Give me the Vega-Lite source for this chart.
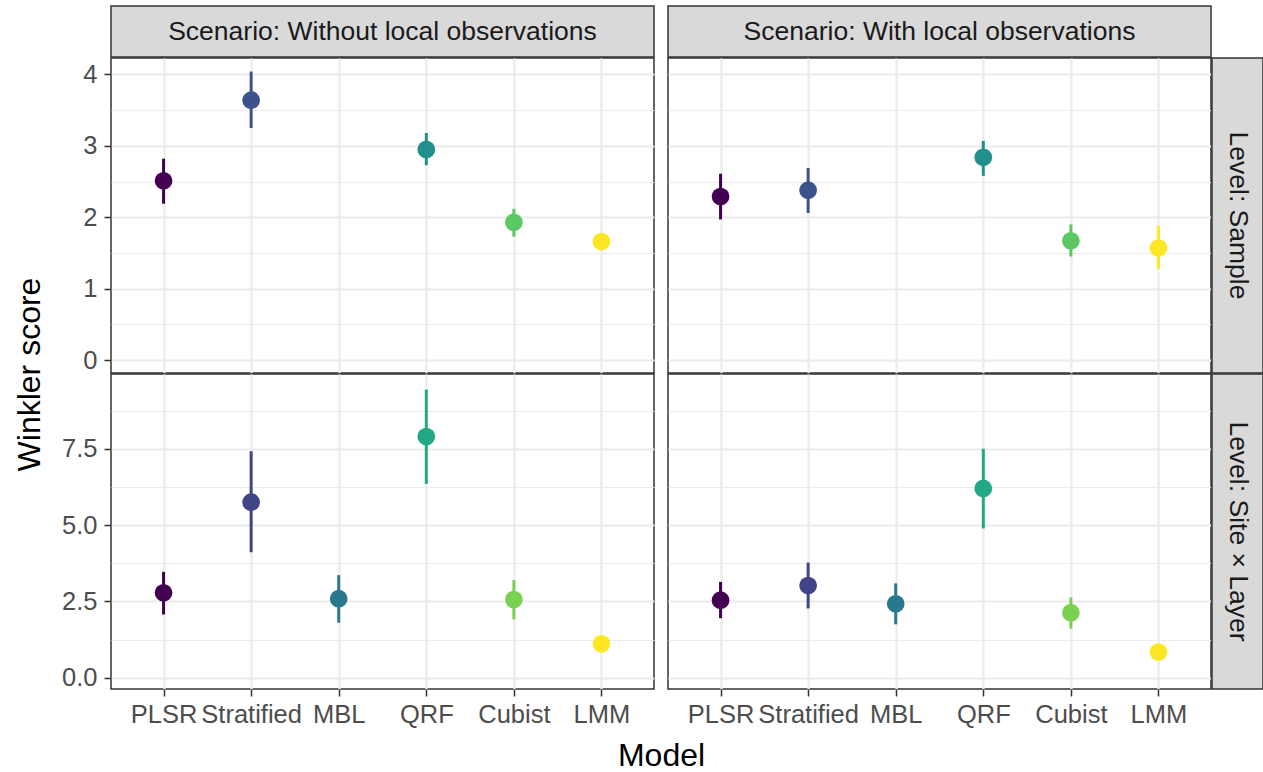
{
  "$schema": "https://vega.github.io/schema/vega-lite/v6.json",
  "padding": {"left": 12, "top": 5, "right": 0, "bottom": 0},
  "background": "white",
  "datasets": {
    "scores": [
      {"scenario": "Without local observations", "level": "Sample", "model": "PLSR", "mean": 2.51, "lo": 2.19, "hi": 2.82},
      {"scenario": "Without local observations", "level": "Sample", "model": "Stratified", "mean": 3.64, "lo": 3.25, "hi": 4.04},
      {"scenario": "Without local observations", "level": "Sample", "model": "QRF", "mean": 2.95, "lo": 2.73, "hi": 3.18},
      {"scenario": "Without local observations", "level": "Sample", "model": "Cubist", "mean": 1.93, "lo": 1.73, "hi": 2.12},
      {"scenario": "Without local observations", "level": "Sample", "model": "LMM", "mean": 1.66, "lo": 1.58, "hi": 1.74},
      {"scenario": "With local observations", "level": "Sample", "model": "PLSR", "mean": 2.29, "lo": 1.97, "hi": 2.61},
      {"scenario": "With local observations", "level": "Sample", "model": "Stratified", "mean": 2.38, "lo": 2.06, "hi": 2.69},
      {"scenario": "With local observations", "level": "Sample", "model": "QRF", "mean": 2.84, "lo": 2.58, "hi": 3.07},
      {"scenario": "With local observations", "level": "Sample", "model": "Cubist", "mean": 1.67, "lo": 1.45, "hi": 1.9},
      {"scenario": "With local observations", "level": "Sample", "model": "LMM", "mean": 1.57, "lo": 1.28, "hi": 1.88},
      {"scenario": "Without local observations", "level": "Site × Layer", "model": "PLSR", "mean": 2.78, "lo": 2.07, "hi": 3.47},
      {"scenario": "Without local observations", "level": "Site × Layer", "model": "Stratified", "mean": 5.75, "lo": 4.11, "hi": 7.42},
      {"scenario": "Without local observations", "level": "Site × Layer", "model": "MBL", "mean": 2.59, "lo": 1.8, "hi": 3.36},
      {"scenario": "Without local observations", "level": "Site × Layer", "model": "QRF", "mean": 7.9, "lo": 6.35, "hi": 9.44},
      {"scenario": "Without local observations", "level": "Site × Layer", "model": "Cubist", "mean": 2.56, "lo": 1.91, "hi": 3.2},
      {"scenario": "Without local observations", "level": "Site × Layer", "model": "LMM", "mean": 1.11, "lo": 1.02, "hi": 1.2},
      {"scenario": "With local observations", "level": "Site × Layer", "model": "PLSR", "mean": 2.54, "lo": 1.95, "hi": 3.14},
      {"scenario": "With local observations", "level": "Site × Layer", "model": "Stratified", "mean": 3.02, "lo": 2.27, "hi": 3.77},
      {"scenario": "With local observations", "level": "Site × Layer", "model": "MBL", "mean": 2.42, "lo": 1.75, "hi": 3.09},
      {"scenario": "With local observations", "level": "Site × Layer", "model": "QRF", "mean": 6.2, "lo": 4.89, "hi": 7.5},
      {"scenario": "With local observations", "level": "Site × Layer", "model": "Cubist", "mean": 2.13, "lo": 1.61, "hi": 2.63},
      {"scenario": "With local observations", "level": "Site × Layer", "model": "LMM", "mean": 0.84, "lo": 0.76, "hi": 0.92}
    ]
  },
  "columns": 4,
  "bounds": "flush",
  "spacing": {"row": 1, "column": 1},
  "resolve": {"scale": {"color": "independent", "x": "independent", "y": "independent"}},
  "concat": [
    {
      "width": 543, "height": 51,
      "view": {"fill": "#d9d9d9", "stroke": "#333333", "strokeWidth": 1.5},
      "data": {"values": [{"label": "Scenario: Without local observations"}]},
      "mark": {"type": "text", "fontSize": 26.5, "color": "#1a1a1a", "baseline": "middle", "align": "center"},
      "encoding": {"text": {"field": "label"}}
    },
    {
      "width": 12, "height": 51,
      "view": {"stroke": null},
      "data": {"values": []},
      "mark": "point"
    },
    {
      "width": 543, "height": 51,
      "view": {"fill": "#d9d9d9", "stroke": "#333333", "strokeWidth": 1.5},
      "data": {"values": [{"label": "Scenario: With local observations"}]},
      "mark": {"type": "text", "fontSize": 26.5, "color": "#1a1a1a", "baseline": "middle", "align": "center"},
      "encoding": {"text": {"field": "label"}}
    },
    {
      "width": 51, "height": 51,
      "view": {"stroke": null},
      "data": {"values": []},
      "mark": "point"
    },
    {
      "width": 543, "height": 315,
      "data": {"name": "scores"},
      "transform": [{"filter": "datum.level === 'Sample' && datum.scenario === 'Without local observations'"}],
      "encoding": {
        "x": {"field": "model", "type": "nominal", "scale": {"type": "point", "domain": ["PLSR", "Stratified", "MBL", "QRF", "Cubist", "LMM"], "padding": 0.6},
              "axis": {"labels": false, "ticks": false, "title": null, "grid": true}},
        "color": {"field": "model", "type": "nominal", "legend": null,
                  "scale": {"domain": ["PLSR", "Stratified", "QRF", "Cubist", "LMM"], "range": ["#440154", "#3B528B", "#21908C", "#5DC863", "#FDE725"]}}
      },
      "layer": [
        {
          "mark": {"type": "rule", "strokeWidth": 3},
          "encoding": {
            "y": {"field": "lo", "type": "quantitative", "scale": {"domain": [-0.18, 4.23], "nice": false, "zero": false},
                  "axis": {"orient": "left", "values": [0.5, 1.5, 2.5, 3.5], "labels": false, "ticks": false, "grid": true, "gridWidth": 1.1, "title": null}},
            "y2": {"field": "hi"}
          }
        },
        {
          "mark": {"type": "circle", "size": 314, "opacity": 1},
          "encoding": {
            "y": {"field": "mean", "type": "quantitative", "scale": {"domain": [-0.18, 4.23], "nice": false, "zero": false},
                  "axis": {"orient": "left", "values": [0, 1, 2, 3, 4], "grid": true, "format": "d", "labelPadding": 7,
                           "title": "Winkler score", "titleX": -72, "titleY": 316, "titleAngle": 270, "titleBaseline": "alphabetic", "titleAlign": "center"}}
          }
        }
      ],
      "resolve": {"axis": {"y": "independent"}}
    },
    {
      "width": 12, "height": 315,
      "view": {"stroke": null},
      "data": {"values": []},
      "mark": "point"
    },
    {
      "width": 543, "height": 315,
      "data": {"name": "scores"},
      "transform": [{"filter": "datum.level === 'Sample' && datum.scenario === 'With local observations'"}],
      "encoding": {
        "x": {"field": "model", "type": "nominal", "scale": {"type": "point", "domain": ["PLSR", "Stratified", "MBL", "QRF", "Cubist", "LMM"], "padding": 0.6},
              "axis": {"labels": false, "ticks": false, "title": null, "grid": true}},
        "color": {"field": "model", "type": "nominal", "legend": null,
                  "scale": {"domain": ["PLSR", "Stratified", "QRF", "Cubist", "LMM"], "range": ["#440154", "#3B528B", "#21908C", "#5DC863", "#FDE725"]}}
      },
      "layer": [
        {
          "mark": {"type": "rule", "strokeWidth": 3},
          "encoding": {
            "y": {"field": "lo", "type": "quantitative", "scale": {"domain": [-0.18, 4.23], "nice": false, "zero": false},
                  "axis": {"orient": "left", "values": [0.5, 1.5, 2.5, 3.5], "labels": false, "ticks": false, "grid": true, "gridWidth": 1.1, "title": null}},
            "y2": {"field": "hi"}
          }
        },
        {
          "mark": {"type": "circle", "size": 314, "opacity": 1},
          "encoding": {
            "y": {"field": "mean", "type": "quantitative", "scale": {"domain": [-0.18, 4.23], "nice": false, "zero": false},
                  "axis": {"orient": "left", "values": [0, 1, 2, 3, 4], "grid": true, "labels": false, "ticks": false, "title": null}}
          }
        }
      ],
      "resolve": {"axis": {"y": "independent"}}
    },
    {
      "width": 51, "height": 315,
      "view": {"fill": "#d9d9d9", "stroke": "#333333", "strokeWidth": 1.5},
      "data": {"values": [{"label": "Level: Sample"}]},
      "mark": {"type": "text", "fontSize": 26.5, "color": "#1a1a1a", "baseline": "middle", "align": "center", "angle": 90},
      "encoding": {"text": {"field": "label"}}
    },
    {
      "width": 543, "height": 315,
      "data": {"name": "scores"},
      "transform": [{"filter": "datum.level === 'Site × Layer' && datum.scenario === 'Without local observations'"}],
      "encoding": {
        "x": {"field": "model", "type": "nominal", "scale": {"type": "point", "domain": ["PLSR", "Stratified", "MBL", "QRF", "Cubist", "LMM"], "padding": 0.6},
              "axis": {"labelAngle": 0, "grid": true, "labelPadding": 6, "title": "Model", "titleX": 550, "titleY": 76, "titleBaseline": "alphabetic", "titleAlign": "center"}},
        "color": {"field": "model", "type": "nominal", "legend": null,
                  "scale": {"domain": ["PLSR", "Stratified", "MBL", "QRF", "Cubist", "LMM"], "range": ["#440154", "#414487", "#2A788E", "#22A884", "#7AD151", "#FDE725"]}}
      },
      "layer": [
        {
          "mark": {"type": "rule", "strokeWidth": 3},
          "encoding": {
            "y": {"field": "lo", "type": "quantitative", "scale": {"domain": [-0.37, 9.95], "nice": false, "zero": false},
                  "axis": {"orient": "left", "values": [1.25, 3.75, 6.25, 8.75], "labels": false, "ticks": false, "grid": true, "gridWidth": 1.1, "title": null}},
            "y2": {"field": "hi"}
          }
        },
        {
          "mark": {"type": "circle", "size": 314, "opacity": 1},
          "encoding": {
            "y": {"field": "mean", "type": "quantitative", "scale": {"domain": [-0.37, 9.95], "nice": false, "zero": false},
                  "axis": {"orient": "left", "values": [0, 2.5, 5, 7.5], "format": ".1f", "grid": true, "labelPadding": 7, "title": null}}
          }
        }
      ],
      "resolve": {"axis": {"y": "independent"}}
    },
    {
      "width": 12, "height": 315,
      "view": {"stroke": null},
      "data": {"values": []},
      "mark": "point"
    },
    {
      "width": 543, "height": 315,
      "data": {"name": "scores"},
      "transform": [{"filter": "datum.level === 'Site × Layer' && datum.scenario === 'With local observations'"}],
      "encoding": {
        "x": {"field": "model", "type": "nominal", "scale": {"type": "point", "domain": ["PLSR", "Stratified", "MBL", "QRF", "Cubist", "LMM"], "padding": 0.6},
              "axis": {"labelAngle": 0, "grid": true, "labelPadding": 6, "title": null}},
        "color": {"field": "model", "type": "nominal", "legend": null,
                  "scale": {"domain": ["PLSR", "Stratified", "MBL", "QRF", "Cubist", "LMM"], "range": ["#440154", "#414487", "#2A788E", "#22A884", "#7AD151", "#FDE725"]}}
      },
      "layer": [
        {
          "mark": {"type": "rule", "strokeWidth": 3},
          "encoding": {
            "y": {"field": "lo", "type": "quantitative", "scale": {"domain": [-0.37, 9.95], "nice": false, "zero": false},
                  "axis": {"orient": "left", "values": [1.25, 3.75, 6.25, 8.75], "labels": false, "ticks": false, "grid": true, "gridWidth": 1.1, "title": null}},
            "y2": {"field": "hi"}
          }
        },
        {
          "mark": {"type": "circle", "size": 314, "opacity": 1},
          "encoding": {
            "y": {"field": "mean", "type": "quantitative", "scale": {"domain": [-0.37, 9.95], "nice": false, "zero": false},
                  "axis": {"orient": "left", "values": [0, 2.5, 5, 7.5], "grid": true, "labels": false, "ticks": false, "title": null}}
          }
        }
      ],
      "resolve": {"axis": {"y": "independent"}}
    },
    {
      "width": 51, "height": 315,
      "view": {"fill": "#d9d9d9", "stroke": "#333333", "strokeWidth": 1.5},
      "data": {"values": [{"label": "Level: Site × Layer"}]},
      "mark": {"type": "text", "fontSize": 26.5, "color": "#1a1a1a", "baseline": "middle", "align": "center", "angle": 90},
      "encoding": {"text": {"field": "label"}}
    }
  ],
  "config": {
    "font": "Liberation Sans",
    "view": {"stroke": "#333333", "strokeWidth": 1.5},
    "axis": {
      "domain": false,
      "labelFont": "Liberation Sans",
      "labelFontSize": 25.5,
      "labelColor": "#4d4d4d",
      "labelPadding": 4,
      "tickColor": "#333333",
      "tickSize": 7,
      "tickWidth": 1.5,
      "gridColor": "#ebebeb",
      "gridWidth": 2.2,
      "titleFont": "Liberation Sans",
      "titleFontSize": 32,
      "titleFontWeight": "normal",
      "titleColor": "#000000"
    }
  }
}
